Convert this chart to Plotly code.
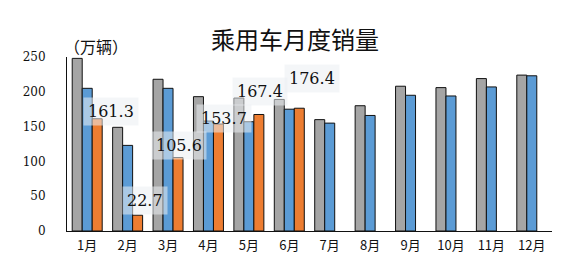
import plotly.graph_objects as go

months = ["1月", "2月", "3月", "4月", "5月", "6月", "7月", "8月", "9月", "10月", "11月", "12月"]
sales_2019 = [248, 149, 218, 193, 191, 189, 160, 180, 208, 206, 219, 224]
sales_2020 = [205, 123, 205, 158, 157, 175, 155, 166, 195, 194, 207, 223]
sales_2021 = [161.3, 22.7, 105.6, 153.7, 167.4, 176.4, None, None, None, None, None, None]
label_texts = ["161.3", "22.7", "105.6", "153.7", "167.4", "176.4"]
y_ticks = [0, 50, 100, 150, 200, 250]

# label offsets (px) relative to the category centre / bar top
label_dx = [24, 17, 11, 16, 11, 23]
label_dy = [7, 15, 12, 6, 23, 30]

colors = ["#A5A5A5", "#5B9BD5", "#ED7D31"]

fig = go.Figure()
for vals, c in zip([sales_2019, sales_2020, sales_2021], colors):
    fig.add_trace(go.Bar(x=months, y=vals, marker=dict(color=c, line=dict(color="#111111", width=1)),
                         showlegend=False, hoverinfo="skip"))

for m, v, t, dx, dy in zip(months, sales_2021, label_texts, label_dx, label_dy):
    fig.add_annotation(x=m, y=v, xref="x", yref="y", text=t, showarrow=False,
                       xshift=dx, yshift=dy, xanchor="center", yanchor="middle",
                       font=dict(family="DejaVu Serif", size=16, color="#111111"),
                       bgcolor="rgba(235,238,242,0.55)", borderpad=4)

fig.add_annotation(xref="paper", yref="paper", x=0, y=1, xshift=-5, yshift=11,
                   xanchor="left", yanchor="middle", text="（万辆）", showarrow=False,
                   font=dict(family="Noto Sans CJK SC", size=16, color="#111111"))

fig.update_layout(
    width=587, height=253,
    margin=dict(l=67, r=35, t=57, b=22, autoexpand=False),
    paper_bgcolor="white", plot_bgcolor="white",
    barmode="group", bargap=0.258, bargroupgap=0,
    title=dict(text="乘用车月度销量", x=295 / 587, y=1 - 41 / 253, xref="container", yref="container",
               xanchor="center", yanchor="middle",
               font=dict(family="Noto Sans CJK SC", size=24, color="#111111")),
    xaxis=dict(showline=True, linecolor="#111111", linewidth=1, showgrid=False, ticks="",
               tickfont=dict(family="Noto Sans CJK SC", size=13, color="#111111"),
               ticklabelstandoff=2, automargin=False),
    yaxis=dict(range=[0, 250], tickvals=y_ticks, showline=True, linecolor="#111111", linewidth=1,
               showgrid=False, zeroline=False, ticks="",
               tickfont=dict(family="DejaVu Serif", size=12, color="#111111"),
               ticklabelstandoff=18, automargin=False),
)

fig.write_html("out.html")
